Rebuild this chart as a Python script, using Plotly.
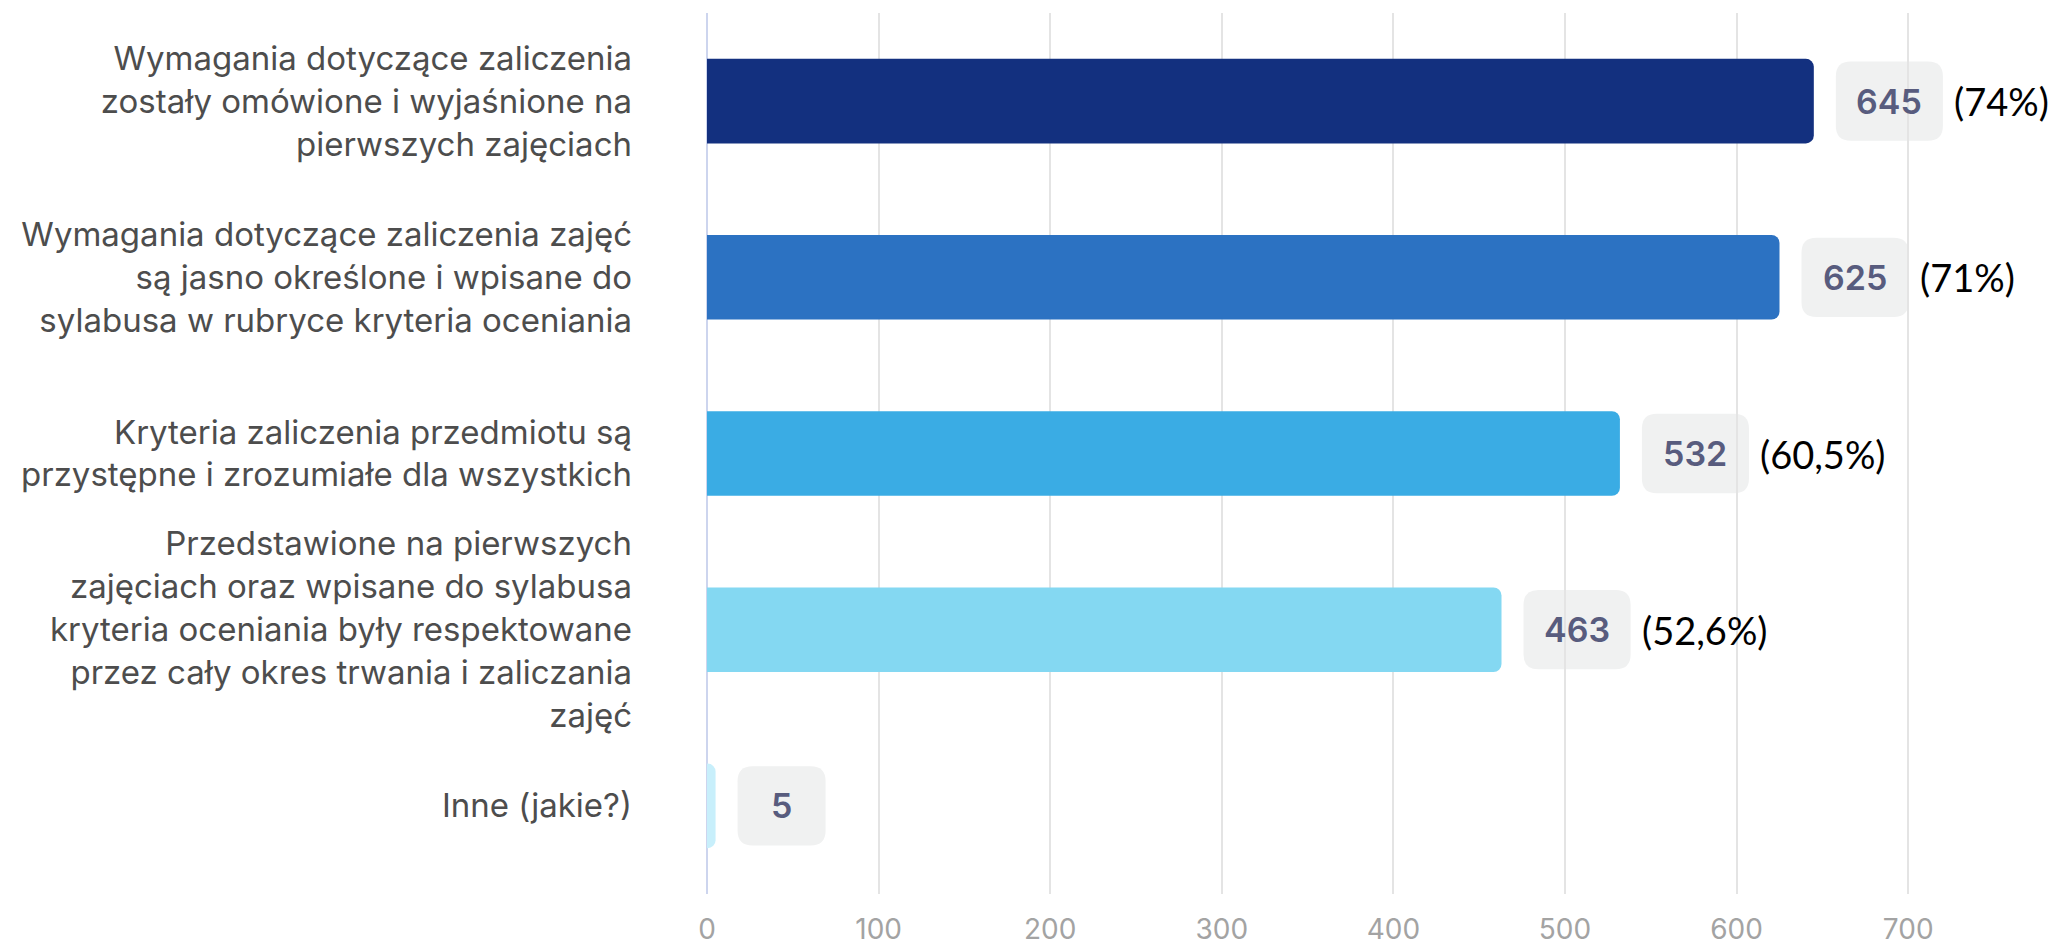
import plotly.graph_objects as go

# data
categories = [
    "Wymagania dotyczące zaliczenia<br>zostały omówione i wyjaśnione na<br>pierwszych zajęciach",
    "Wymagania dotyczące zaliczenia zajęć<br>są jasno określone i wpisane do<br>sylabusa w rubryce kryteria oceniania",
    "Kryteria zaliczenia przedmiotu są<br>przystępne i zrozumiałe dla wszystkich",
    "Przedstawione na pierwszych<br>zajęciach oraz wpisane do sylabusa<br>kryteria oceniania były respektowane<br>przez cały okres trwania i zaliczania<br>zajęć",
    "Inne (jakie?)",
]
counts = [645, 625, 532, 463, 5]
percents = ["(74%)", "(71%)", "(60,5%)", "(52,6%)", ""]
bar_colors = ["#13307f", "#2c72c2", "#3aace4", "#84d8f2", "#c8effb"]
x_ticks = [0, 100, 200, 300, 400, 500, 600, 700]

# page geometry
W, H = 2053, 945
L, R, T, B = 707, 59, 13, 51
X_MAX = 750
px_x = (W - L - R) / X_MAX          # pixels per x unit
px_y = (H - T - B) / len(categories)  # pixels per category

rows = list(range(len(categories)))

fig = go.Figure()
fig.add_trace(go.Bar(
    y=rows,
    x=counts,
    orientation="h",
    width=0.48,
    marker=dict(color=bar_colors, line=dict(width=0), cornerradius=8),
    hoverinfo="x+y",
))


def rounded_rect(x0, x1, y0, y1, r_px):
    rx = r_px / px_x
    ry = r_px / px_y
    return (
        f"M {x0 + rx},{y0} L {x1 - rx},{y0} Q {x1},{y0} {x1},{y0 + ry} "
        f"L {x1},{y1 - ry} Q {x1},{y1} {x1 - rx},{y1} "
        f"L {x0 + rx},{y1} Q {x0},{y1} {x0},{y1 - ry} "
        f"L {x0},{y0 + ry} Q {x0},{y0} {x0 + rx},{y0} Z"
    )


shapes = []
annotations = []
for i, (v, pct) in enumerate(zip(counts, percents)):
    bx0 = v + 22 / px_x
    bw = max(88, 42 + 21.7 * len(str(v))) / px_x
    bx1 = bx0 + bw
    shapes.append(dict(
        type="path", xref="x", yref="y", layer="below",
        path=rounded_rect(bx0, bx1, i - 0.225, i + 0.225, 15),
        fillcolor="#f0f1f1", line=dict(width=0),
    ))
    annotations.append(dict(
        x=(bx0 + bx1) / 2, y=i, xref="x", yref="y",
        text=str(v), showarrow=False,
        font=dict(family="Inter", size=34, color="#585c7e", weight=600),
    ))
    if pct:
        annotations.append(dict(
            x=bx1 + 9 / px_x, y=i, xref="x", yref="y",
            text=pct, showarrow=False, xanchor="left",
            font=dict(family="Lato", size=38, color="#000000"),
        ))

fig.update_layout(
    width=W, height=H,
    margin=dict(l=L, r=R, t=T, b=B, autoexpand=False),
    paper_bgcolor="white",
    plot_bgcolor="white",
    showlegend=False,
    shapes=shapes,
    annotations=annotations,
    xaxis=dict(
        range=[0, X_MAX],
        tickvals=x_ticks,
        automargin=False,
        showgrid=True, gridcolor="#e4e4e4", gridwidth=1.5,
        zeroline=True, zerolinecolor="#cdd5ee", zerolinewidth=2,
        showline=False, ticks="",
        ticklabelstandoff=16,
        tickfont=dict(family="Inter", size=28, color="#a3a3a3"),
    ),
    yaxis=dict(
        range=[len(categories) - 0.5, -0.5],
        tickvals=rows,
        ticktext=categories,
        automargin=False,
        showgrid=False, zeroline=False, showline=False, ticks="",
        ticklabelstandoff=74,
        tickfont=dict(family="Inter", size=33, color="#4d4d4d"),
    ),
)

# drop the default 8px body margin so the figure fills the window exactly
fig.write_html(
    "out.html",
    config={"displayModeBar": False},
    post_script="document.body.style.margin='0px';",
)
